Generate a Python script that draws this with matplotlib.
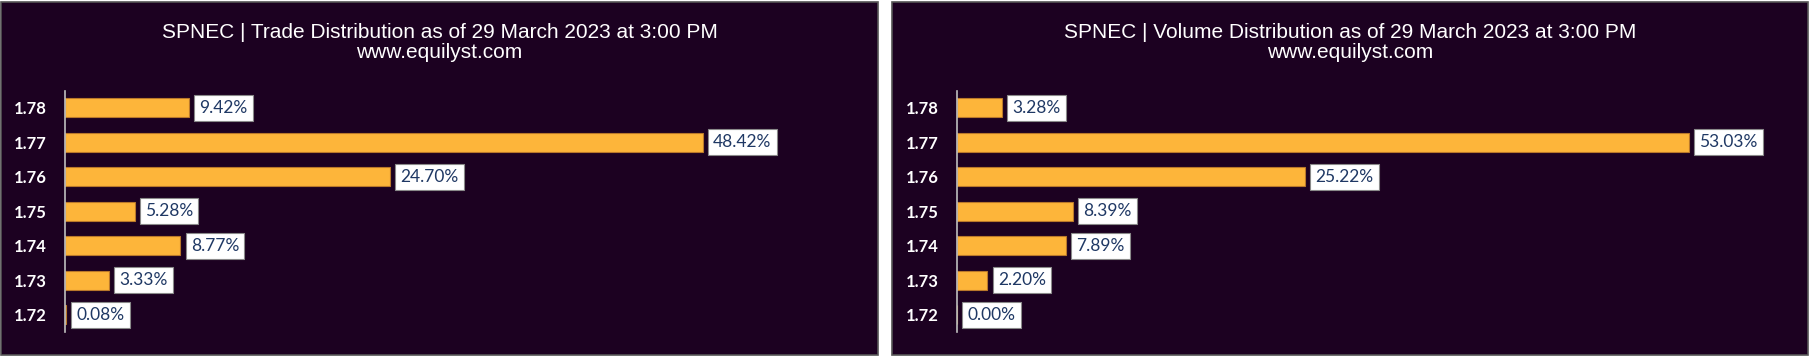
import matplotlib.pyplot as plt
from matplotlib.patches import Rectangle

# price levels and shares (%)
prices = ["1.72", "1.73", "1.74", "1.75", "1.76", "1.77", "1.78"]
trade_pct = [0.08, 3.33, 8.77, 5.28, 24.70, 48.42, 9.42]
volume_pct = [0.00, 2.20, 7.89, 8.39, 25.22, 53.03, 3.28]
titles = ["SPNEC | Trade Distribution as of 29 March 2023 at 3:00 PM\nwww.equilyst.com",
          "SPNEC | Volume Distribution as of 29 March 2023 at 3:00 PM\nwww.equilyst.com"]

bg = "#1c0121"
bar_col = "#fdb53a"
W, H = 1810, 356

fig = plt.figure(figsize=(W / 100, H / 100), dpi=100)
fig.patch.set_facecolor("white")

title_font = ["Liberation Sans", "DejaVu Sans"]
label_font = ["Lato", "DejaVu Sans"]

# panel boxes (pixel spans) and axes placement
panels = [(1, 878), (892, 1808)]
axes_px = [(65, 790, 60.0), (957, 828, 60.0)]

for (px0, px1), (ax0, aw, xmax), vals, title in zip(panels, axes_px, [trade_pct, volume_pct], titles):
    fig.patches.append(Rectangle((px0 / W, 1 / H), (px1 - px0) / W, 353 / H,
                                 transform=fig.transFigure, facecolor=bg,
                                 edgecolor="#555555", linewidth=1.2, zorder=-5))
    fig.text((px0 + px1) / 2 / W, 1 - 42.5 / H, title, ha="center", va="center",
             color="white", fontsize=15, family=title_font, linespacing=1.1)

    ax = fig.add_axes([ax0 / W, 24 / H, aw / W, 241.5 / H])
    ax.set_facecolor("none")
    y = range(len(prices))
    ax.barh(y, vals, height=0.56, color=bar_col, edgecolor="#b9782a", linewidth=0.8)
    for yi, v in zip(y, vals):
        ax.annotate(f"{v:.2f}%", (v, yi), xytext=(7.5, 0), textcoords="offset points",
                    ha="left", va="center", fontsize=12.5, color="#1f3864", family=label_font,
                    bbox=dict(boxstyle="square,pad=0.3", facecolor="white",
                              edgecolor="#8a8a8a", linewidth=0.8))
    ax.set_xlim(0, xmax)
    ax.set_ylim(-0.5, 6.5)
    ax.set_yticks(list(y))
    ax.set_yticklabels(prices, color="white", fontsize=12, fontweight="bold", family=label_font)
    ax.tick_params(axis="y", length=0, pad=13)
    ax.set_xticks([])
    for s in ["top", "right", "bottom"]:
        ax.spines[s].set_visible(False)
    ax.spines["left"].set_color("#bfbfbf")
    ax.spines["left"].set_linewidth(1.2)

fig.savefig("out.png", dpi=100, facecolor=fig.get_facecolor())
